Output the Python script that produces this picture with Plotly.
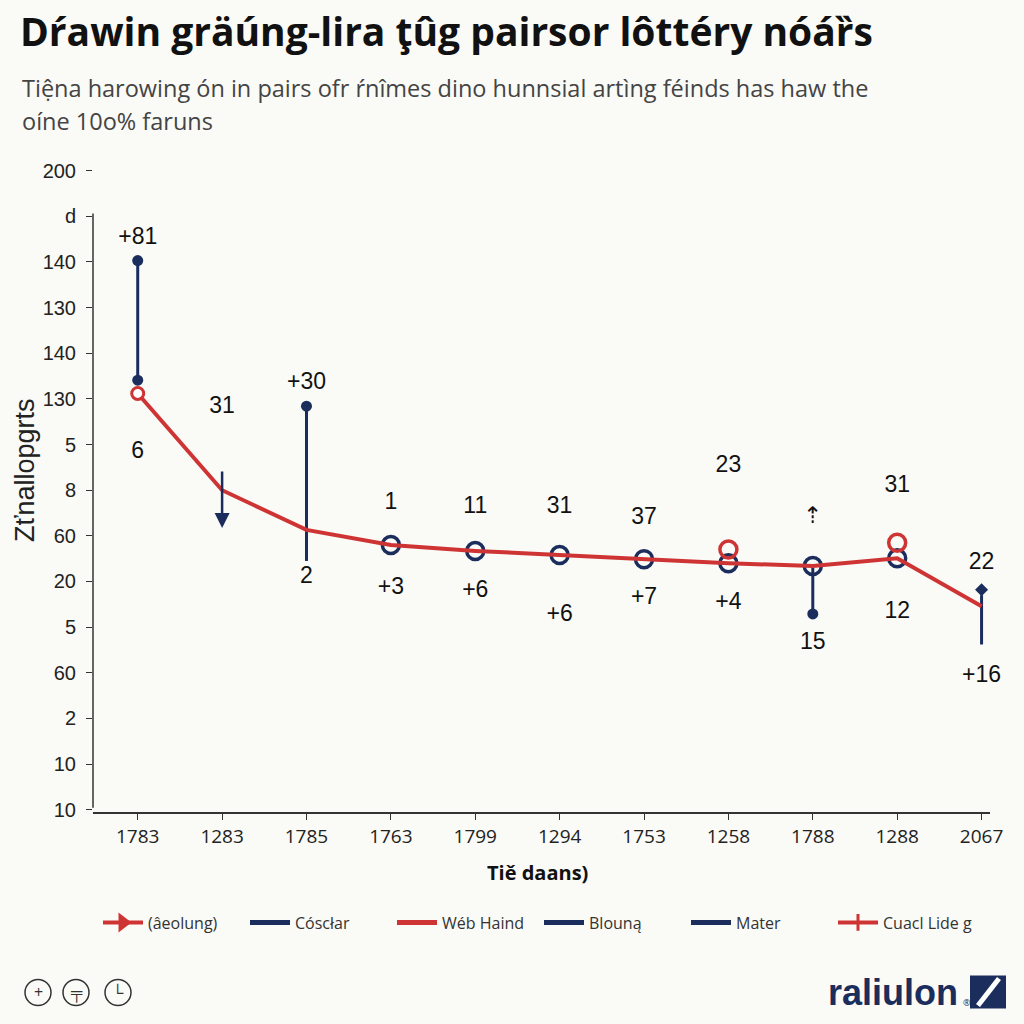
import plotly.graph_objects as go

# ---------------- data ----------------
x_labels = ["1783", "1283", "1785", "1763", "1799", "1294", "1753", "1258", "1788", "1288", "2067"]
x_idx = list(range(len(x_labels)))

y_tick_vals = list(range(15))
y_tick_text = ["10", "10", "2", "60", "5", "20", "60", "8", "5", "130", "140", "130", "140", "d", "200"]

red_line = [9.12, 7.00, 6.13, 5.80, 5.67, 5.58, 5.49, 5.40, 5.34, 5.51, 4.46]

ring_x = [3, 4, 5, 6, 7, 8, 9]
ring_y = [5.80, 5.67, 5.58, 5.49, 5.40, 5.34, 5.51]
red_ring_x = [0, 7, 9]
red_ring_y = [9.12, 5.70, 5.85]

stem0 = [12.03, 9.41]
stem2 = [8.84, 5.45]
stem8 = [5.30, 4.29]
stem10 = [4.70, 3.62]
arrow1 = [7.44, 6.17]

lab_x = [0, 0, 1, 2, 3, 2, 4, 3, 4, 5, 5, 6, 6, 7, 7, 8, 8, 9, 9, 10, 10]
lab_y = [12.52, 7.83, 8.82, 9.34, 6.72, 5.10, 6.63, 4.86, 4.79, 6.63, 4.25, 6.39, 4.64,
         7.53, 4.53, 6.41, 3.65, 7.09, 4.33, 5.40, 2.93]
lab_t = ["+81", "6", "31", "+30", "1", "2", "11", "+3", "+6", "31", "+6", "37", "+7",
         "23", "+4", "⇡", "15", "31", "12", "22", "+16"]

legend_names = ["(âeolung)", "Cóscłar", "Wéb Haind", "Blouną", "Mater", "Cuacl Lide g"]

RED = "#cf3434"
NAVY = "#1b2d5c"
BG = "#fafaf6"

# plot area in pixels
L, R, T, B = 93, 990, 156.5, 812.3
def fx(px):
    return (px - L) / (R - L)
def fy(py):
    return (B - py) / (B - T)

fig = go.Figure()

# navy stems
for xx, yy, ends in [(0, stem0, [0, 1]), (2, stem2, [0]), (8, stem8, [1]), (10, stem10, [])]:
    fig.add_trace(go.Scatter(x=[xx, xx], y=yy, mode="lines",
                             line=dict(color=NAVY, width=3),
                             showlegend=False, hoverinfo="skip", cliponaxis=False))
    if ends:
        fig.add_trace(go.Scatter(x=[xx] * len(ends), y=[yy[i] for i in ends], mode="markers",
                                 marker=dict(color=NAVY, size=11, line=dict(width=0)),
                                 showlegend=False, hoverinfo="skip", cliponaxis=False))
fig.add_trace(go.Scatter(x=[10], y=[stem10[0] + 0.12], mode="markers",
                         marker=dict(color=NAVY, size=10, symbol="diamond", line=dict(width=0)),
                         showlegend=False, hoverinfo="skip", cliponaxis=False))

# navy rings
fig.add_trace(go.Scatter(x=ring_x, y=ring_y, mode="markers",
                         marker=dict(symbol="circle-open", size=17, color=NAVY, line=dict(width=3.5)),
                         showlegend=False, hoverinfo="skip"))
fig.add_trace(go.Scatter(x=red_ring_x[1:], y=red_ring_y[1:], mode="markers",
                         marker=dict(symbol="circle-open", size=17, color=RED, line=dict(width=3.5)),
                         showlegend=False, hoverinfo="skip"))

# red line
fig.add_trace(go.Scatter(x=x_idx, y=red_line, mode="lines",
                         line=dict(color=RED, width=4),
                         showlegend=False, hoverinfo="skip", cliponaxis=False))
fig.add_trace(go.Scatter(x=red_ring_x[:1], y=red_ring_y[:1], mode="markers",
                         marker=dict(symbol="circle", size=12, color="white", line=dict(width=3, color=RED)),
                         showlegend=False, hoverinfo="skip"))

# labels
fig.add_trace(go.Scatter(x=lab_x, y=lab_y, mode="text", text=lab_t, cliponaxis=False,
                         textfont=dict(family="Liberation Sans, Arial", size=23, color="#111"),
                         showlegend=False, hoverinfo="skip"))

# legend dummies
leg_styles = [
    dict(color=RED, marker="triangle-right"),
    dict(color=NAVY, marker=None),
    dict(color=RED, marker=None),
    dict(color=NAVY, marker=None),
    dict(color=NAVY, marker=None),
    dict(color=RED, marker="cross-thin"),
]
for name, st in zip(legend_names, leg_styles):
    if st["marker"]:
        fig.add_trace(go.Scatter(x=[None], y=[None], name=name, mode="lines+markers",
                                 line=dict(color=st["color"], width=4),
                                 marker=dict(symbol=st["marker"], size=12, color=st["color"],
                                             line=dict(width=3, color=st["color"]))))
    else:
        fig.add_trace(go.Scatter(x=[None], y=[None], name=name, mode="lines",
                                 line=dict(color=st["color"], width=5)))

# arrow at category 1
fig.add_annotation(x=1, y=arrow1[1], ax=1, ay=arrow1[0], xref="x", yref="y", axref="x", ayref="y",
                   showarrow=True, arrowhead=2, arrowsize=1.2, arrowwidth=2.5, arrowcolor=NAVY, text="")

# y-axis line
fig.add_shape(type="line", xref="paper", yref="paper", x0=0, x1=0, y0=fy(808), y1=fy(213),
              line=dict(color="#333", width=1.5))

# title / subtitle
fig.add_annotation(text="<b>Dŕawin gräúng-lira ţûg pairsor lôttéry nóáȑs</b>", xref="paper", yref="paper",
                   x=fx(18), y=fy(30), xanchor="left", yanchor="middle", showarrow=False,
                   font=dict(family="Open Sans", size=39, color="#111"))
fig.add_annotation(text="Tiệna harowing ón in pairs ofr ŕnîmes dino hunnsial artìng féinds has haw the",
                   xref="paper", yref="paper", x=fx(20), y=fy(87), xanchor="left", yanchor="middle",
                   showarrow=False, font=dict(family="Open Sans", size=23.5, color="#444"))
fig.add_annotation(text="oíne 10o% faruns",
                   xref="paper", yref="paper", x=fx(20), y=fy(120), xanchor="left", yanchor="middle",
                   showarrow=False, font=dict(family="Open Sans", size=23.5, color="#444"))

# axis titles
fig.add_annotation(text="Zťnallopgrts", xref="paper", yref="paper", x=fx(25), y=fy(470),
                   textangle=-90, showarrow=False, xanchor="center", yanchor="middle",
                   font=dict(family="Liberation Sans, Arial", size=27, color="#222"))
fig.add_annotation(text="<b>Tiě daans)</b>", xref="paper", yref="paper", x=fx(537), y=fy(873),
                   showarrow=False, xanchor="center", yanchor="middle",
                   font=dict(family="Open Sans", size=20, color="#111"))

# bottom icons
for cx, sym in [(38, "+"), (76, "╤"), (118, "└")]:
    r = 13
    fig.add_shape(type="circle", xref="paper", yref="paper",
                  x0=fx(cx - r), x1=fx(cx + r), y0=fy(993 + r), y1=fy(993 - r),
                  line=dict(color="#333", width=1.5))
    fig.add_annotation(text=sym, xref="paper", yref="paper", x=fx(cx), y=fy(993),
                       xanchor="center", yanchor="middle",
                       showarrow=False, font=dict(size=16, color="#333"))

# logo
fig.add_annotation(text="<b>raliulon</b>", xref="paper", yref="paper", x=fx(960), y=fy(993),
                   xanchor="right", yanchor="middle", showarrow=False,
                   font=dict(family="Liberation Sans Narrow, Liberation Sans", size=36, color=NAVY))
fig.add_annotation(text="®", xref="paper", yref="paper", x=fx(961), y=fy(1003),
                   xanchor="left", yanchor="middle", showarrow=False,
                   font=dict(size=9, color=NAVY))
fig.add_shape(type="rect", xref="paper", yref="paper", x0=fx(970), x1=fx(1006), y0=fy(1009), y1=fy(976),
              fillcolor=NAVY, line=dict(width=0))
fig.add_shape(type="line", xref="paper", yref="paper", x0=fx(978), x1=fx(999), y0=fy(1006), y1=fy(979),
              line=dict(color="white", width=5))

fig.update_layout(
    width=1024, height=1024,
    margin=dict(l=L, r=1024 - R, t=T, b=1024 - B),
    paper_bgcolor=BG, plot_bgcolor=BG,
    showlegend=True,
    legend=dict(orientation="h", x=fx(98), y=fy(923), xanchor="left", yanchor="middle",
                font=dict(family="Open Sans", size=16, color="#333"), bgcolor="rgba(0,0,0,0)",
                itemwidth=40, entrywidth=92, tracegroupgap=0),
    xaxis=dict(range=[-0.53, 10.1], tickvals=x_idx, ticktext=x_labels, showgrid=False, zeroline=False,
               showline=True, linecolor="#333", linewidth=1.5, ticks="outside", ticklen=6, tickcolor="#333",
               tickfont=dict(family="Open Sans", size=19, color="#222")),
    yaxis=dict(range=[-0.05, 14.3], tickvals=y_tick_vals, ticktext=y_tick_text, showgrid=False,
               zeroline=False, showline=False, ticks="outside", ticklen=6, tickcolor="#333",
               ticklabelstandoff=6,
               tickfont=dict(family="Liberation Sans, Arial", size=20, color="#222")),
)

fig.write_html("out.html")
